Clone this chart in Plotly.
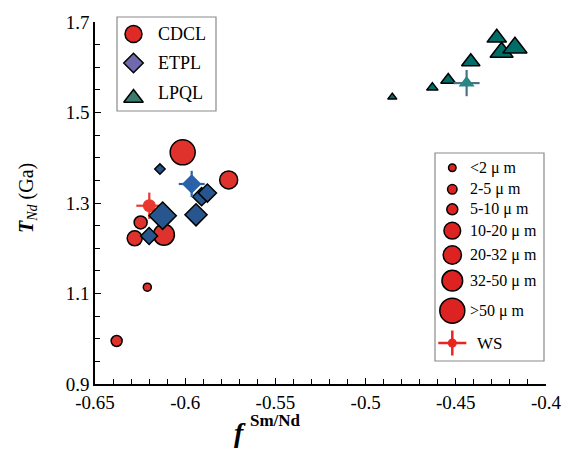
import plotly.graph_objects as go

# ---------------- data ----------------
cdcl_x = [-0.638, -0.621, -0.628, -0.6247, -0.6118, -0.6014, -0.5759]
cdcl_y = [0.995, 1.114, 1.222, 1.257, 1.230, 1.412, 1.351]
cdcl_s = [11, 8, 15, 13, 21, 25, 18]

etpl_x = [-0.614, -0.620, -0.6125, -0.594, -0.5909, -0.5877]
etpl_y = [1.375, 1.227, 1.272, 1.274, 1.314, 1.322]
etpl_s = [8, 13, 21, 17, 14, 14]

lpql_x = [-0.4852, -0.4630, -0.4542, -0.4417, -0.4273, -0.4246, -0.4172]
lpql_y = [1.534, 1.555, 1.572, 1.612, 1.665, 1.633, 1.643]
lpql_s = [8, 10, 13, 16, 17, 20, 21]

ws_x = [-0.6199, -0.5964, -0.444]
ws_y = [1.294, 1.342, 1.565]
ws_ex = [0.0072, 0.0072, 0.0072]
ws_ey = [0.029, 0.029, 0.029]

x_ticks = [-0.65, -0.6, -0.55, -0.5, -0.45, -0.4]
x_ticklabels = ["-0.65", "-0.6", "-0.55", "-0.5", "-0.45", "-0.4"]
y_ticks = [0.9, 1.1, 1.3, 1.5, 1.7]
y_ticklabels = ["0.9", "1.1", "1.3", "1.5", "1.7"]

type_labels = ["CDCL", "ETPL", "LPQL"]
size_labels = ["&lt;2 μ m", "2-5 μ m", "5-10 μ m", "10-20 μ m", "20-32 μ m", "32-50 μ m", "&gt;50 μ m"]
size_marks = [7.5, 9.5, 11, 16.7, 18.3, 20.7, 25]

# ---------------- layout helpers ----------------
W, H = 573, 454
L, R, T, B = 95, 27, 22, 70
PW, PH = W - L - R, H - T - B
FONT = "Liberation Serif, Times New Roman, serif"

def pxx(x):
    return (x - L) / PW

def pyy(y):
    return (H - B - y) / PH

RED = "#e0322c"
BLUE = "#27568f"
TEAL = "#006d68"

fig = go.Figure()

fig.add_trace(go.Scatter(
    x=cdcl_x, y=cdcl_y, mode="markers",
    marker=dict(symbol="circle", size=cdcl_s, color=RED, opacity=1, line=dict(color="black", width=1.5)),
    showlegend=False))

fig.add_trace(go.Scatter(
    x=ws_x[:1], y=ws_y[:1], mode="markers",
    marker=dict(symbol="circle", size=13, color="#e8382f", opacity=1),
    error_x=dict(type="data", array=ws_ex[:1], color="#e8382f", thickness=2.2, width=0),
    error_y=dict(type="data", array=ws_ey[:1], color="#e8382f", thickness=2.2, width=0),
    showlegend=False))

fig.add_trace(go.Scatter(
    x=etpl_x, y=etpl_y, mode="markers",
    marker=dict(symbol="diamond", size=etpl_s, color=BLUE, opacity=1, line=dict(color="black", width=1.5)),
    showlegend=False))

fig.add_trace(go.Scatter(
    x=ws_x[1:2], y=ws_y[1:2], mode="markers",
    marker=dict(symbol="diamond", size=15, color="#2a62aa", opacity=1),
    error_x=dict(type="data", array=ws_ex[1:2], color="#2a62aa", thickness=2.2, width=0),
    error_y=dict(type="data", array=ws_ey[1:2], color="#2a62aa", thickness=2.2, width=0),
    showlegend=False))

fig.add_trace(go.Scatter(
    x=lpql_x, y=lpql_y, mode="markers",
    marker=dict(symbol="triangle-up", size=lpql_s, color=TEAL, opacity=1, line=dict(color="black", width=1.5)),
    showlegend=False))

fig.add_trace(go.Scatter(
    x=ws_x[2:], y=ws_y[2:], mode="markers",
    marker=dict(symbol="triangle-up", size=14, color="#2a8684", opacity=1),
    error_x=dict(type="data", array=ws_ex[2:], color="#4d7088", thickness=2.2, width=0),
    error_y=dict(type="data", array=ws_ey[2:], color="#4d7088", thickness=2.2, width=0),
    showlegend=False))

# ---------------- legend markers (pixel-space overlay axes) ----------------
leg1_sym = ["circle", "diamond", "triangle-up"]
leg1_col = ["#e02a26", "#6e6aab", "#3b7a6e"]
leg1_size = [17, 15, 17]
leg1_y = [34, 63, 98]
for s, c, sz, yy in zip(leg1_sym, leg1_col, leg1_size, leg1_y):
    fig.add_trace(go.Scatter(
        x=[133.5], y=[yy], xaxis="x3", yaxis="y3", mode="markers", cliponaxis=False,
        marker=dict(symbol=s, size=sz, color=c, opacity=1, line=dict(color="black", width=1.5)),
        showlegend=False, hoverinfo="skip"))

leg2_y = [167.7, 189.3, 209.3, 230.7, 255, 280.7, 310.7]
fig.add_trace(go.Scatter(
    x=[452.3] * len(leg2_y), y=leg2_y, xaxis="x3", yaxis="y3", mode="markers", cliponaxis=False,
    marker=dict(symbol="circle", size=size_marks, color="#dd2222", opacity=1,
                line=dict(color="black", width=1.5)),
    showlegend=False, hoverinfo="skip"))
fig.add_trace(go.Scatter(
    x=[452.3], y=[343], xaxis="x3", yaxis="y3", mode="markers", cliponaxis=False,
    marker=dict(symbol="circle", size=9, color="#e8251f", opacity=1),
    error_x=dict(type="data", array=[14], color="#e8251f", thickness=2.5, width=0),
    error_y=dict(type="data", array=[12.5], color="#e8251f", thickness=2.5, width=0),
    showlegend=False, hoverinfo="skip"))

shapes = [
    dict(type="rect", xref="paper", yref="paper", x0=pxx(117), x1=pxx(216), y0=pyy(111), y1=pyy(17),
         line=dict(color="#8a8a8a", width=1.2), fillcolor="rgba(0,0,0,0)", layer="below"),
    dict(type="rect", xref="paper", yref="paper", x0=pxx(435), x1=pxx(544), y0=pyy(361), y1=pyy(153),
         line=dict(color="#8a8a8a", width=1.2), fillcolor="rgba(0,0,0,0)", layer="below"),
]

annotations = []
for lab, yy in zip(type_labels, [34, 63, 93]):
    annotations.append(dict(text=lab, xref="paper", yref="paper", x=pxx(156), y=pyy(yy),
                            xanchor="left", yanchor="middle", showarrow=False,
                            font=dict(family=FONT, size=18, color="black")))
for lab, yy in zip(size_labels, leg2_y):
    annotations.append(dict(text=lab, xref="paper", yref="paper", x=pxx(468), y=pyy(yy),
                            xanchor="left", yanchor="middle", showarrow=False,
                            font=dict(family=FONT, size=16, color="black")))
annotations.append(dict(text="WS", xref="paper", yref="paper", x=pxx(475), y=pyy(343),
                        xanchor="left", yanchor="middle", showarrow=False,
                        font=dict(family=FONT, size=17, color="black")))
# axis titles
annotations.append(dict(text="<b><i>f</i></b>", xref="paper", yref="paper", x=pxx(248), y=pyy(432),
                        xanchor="right", yanchor="middle", showarrow=False,
                        font=dict(family=FONT, size=28, color="black")))
annotations.append(dict(text="<b>Sm/Nd</b>", xref="paper", yref="paper", x=pxx(248), y=pyy(421),
                        xanchor="left", yanchor="middle", showarrow=False,
                        font=dict(family=FONT, size=17, color="black")))
annotations.append(dict(text="<b><i>T</i></b><sub><i>Nd</i></sub> (Ga)", xref="paper", yref="paper",
                        x=pxx(27), y=pyy(198), textangle=-90,
                        xanchor="center", yanchor="middle", showarrow=False,
                        font=dict(family=FONT, size=20, color="black")))

axis_common = dict(showgrid=False, zeroline=False, showline=True, linecolor="black", linewidth=1.5,
                   tickcolor="black", tickwidth=1.3, ticks="inside", ticklen=6,
                   tickfont=dict(family=FONT, size=19, color="black"))

fig.update_layout(
    width=W, height=H, margin=dict(l=L, r=R, t=T, b=B),
    plot_bgcolor="white", paper_bgcolor="white",
    xaxis=dict(range=[-0.65, -0.4], tickvals=x_ticks, ticktext=x_ticklabels,
               minor=dict(dtick=0.01, tick0=-0.65, ticks="inside", ticklen=5, tickcolor="black", tickwidth=1.3),
               **axis_common),
    yaxis=dict(range=[0.9, 1.7], tickvals=y_ticks, ticktext=y_ticklabels,
               minor=dict(dtick=0.05, tick0=0.9, ticks="inside", ticklen=5, tickcolor="black", tickwidth=1.3),
               **axis_common),
    xaxis2=dict(overlaying="x", anchor="y", side="bottom", range=[-0.65, -0.4], tickvals=x_ticks,
                ticks="outside", ticklen=4, tickcolor="black", tickwidth=1.3,
                showticklabels=False, showline=False, showgrid=False, zeroline=False),
    yaxis2=dict(overlaying="y", anchor="x", side="left", range=[0.9, 1.7], tickvals=y_ticks,
                ticks="outside", ticklen=4, tickcolor="black", tickwidth=1.3,
                showticklabels=False, showline=False, showgrid=False, zeroline=False),
    xaxis3=dict(overlaying="x", anchor="y3", range=[L, W - R], visible=False),
    yaxis3=dict(overlaying="y", anchor="x3", range=[H - B, T], visible=False),
    shapes=shapes, annotations=annotations, showlegend=False,
)

fig.write_html("out.html")
